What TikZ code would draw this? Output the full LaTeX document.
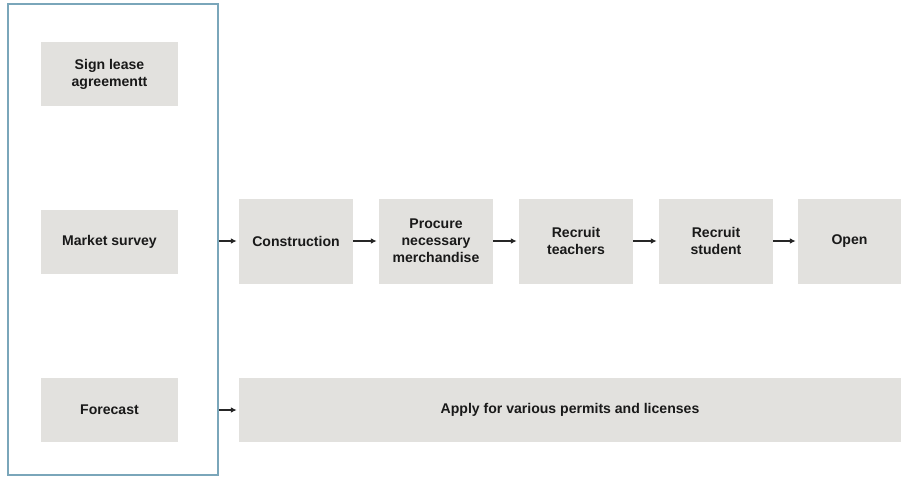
\documentclass[tikz,border=0pt]{standalone}
\usepackage{fontspec}
\setmainfont{Liberation Sans}
\usetikzlibrary{arrows.meta}
\definecolor{boxgray}{RGB}{226,225,222}
\definecolor{frameblue}{RGB}{122,166,186}
\tikzset{
  stage/.style={fill=boxgray, inner sep=0pt, align=center,
    font=\bfseries\fontsize{10}{12}\selectfont, text=black!90},
  leftstage/.style={stage, minimum width=137*0.025cm, minimum height=64*0.025cm},
  chainstage/.style={stage, minimum width=114*0.025cm, minimum height=85*0.025cm},
  flow/.style={-{Latex[length=4pt,width=4pt]}, line width=1.1pt, black!85, shorten >=1.5pt}
}
\begin{document}
\begin{tikzpicture}[x=0.025cm, y=-0.025cm]
\useasboundingbox (0,0) rectangle (901,476);
% frame round the preparation steps
\node[draw=frameblue, line width=1.6pt, minimum width=210*0.025cm,
  minimum height=471*0.025cm, inner sep=0pt] (prep) at (113,239.5) {};
\node[leftstage] (lease) at (109.5,74) {Sign lease\\agreementt};
\node[leftstage] (survey) at (109.5,241.5) {Market survey};
\node[leftstage] (forecast) at (109.5,410) {Forecast};
% main chain
\node[chainstage] (build) at (296,241) {Construction};
\node[chainstage] (procure) at (436,241) {Procure\\necessary\\merchandise};
\node[chainstage] (teachers) at (576,241) {Recruit\\teachers};
\node[chainstage] (students) at (716,241) {Recruit\\student};
\node[chainstage, minimum width=103*0.025cm] (open) at (849.5,241) {Open};
\node[stage, minimum width=662*0.025cm, minimum height=64*0.025cm] (permits) at (570,410)
  {Apply for various permits and licenses};
% arrows
\draw[flow] (prep.east |- build) -- (build);
\draw[flow] (build) -- (procure);
\draw[flow] (procure) -- (teachers);
\draw[flow] (teachers) -- (students);
\draw[flow] (students) -- (open);
\draw[flow] (prep.east |- permits) -- (permits);
\end{tikzpicture}
\end{document}
